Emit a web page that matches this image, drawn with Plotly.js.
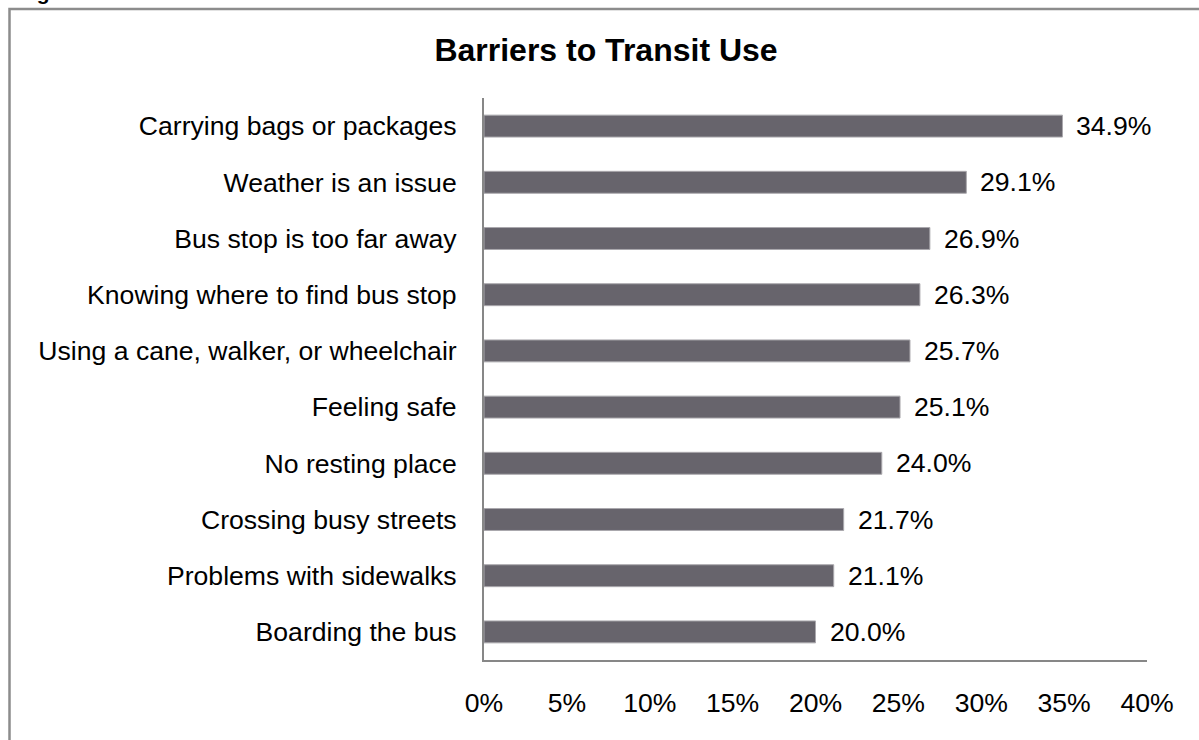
<!DOCTYPE html>
<html>
<head>
<meta charset="utf-8">
<script src="https://cdn.plot.ly/plotly-3.0.1.min.js"></script>
<style>
  html, body { margin: 0; padding: 0; background: #ffffff; }
  #chart { width: 1199px; height: 740px; }
</style>
</head>
<body>
<div id="chart"></div>
<script>
// Data (top to bottom as shown)
const categories = [
  "Carrying bags or packages",
  "Weather is an issue",
  "Bus stop is too far away",
  "Knowing where to find bus stop",
  "Using a cane, walker, or wheelchair",
  "Feeling safe",
  "No resting place",
  "Crossing busy streets",
  "Problems with sidewalks",
  "Boarding the bus"
];
const values = [34.9, 29.1, 26.9, 26.3, 25.7, 25.1, 24.0, 21.7, 21.1, 20.0];
const tickValues = [0, 5, 10, 15, 20, 25, 30, 35, 40];
const tickLabels = ["0%", "5%", "10%", "15%", "20%", "25%", "30%", "35%", "40%"];
const chartTitle = "Barriers to Transit Use";

const FONT = "'Liberation Sans', Arial, Helvetica, sans-serif";
const FS = 26.6;

const trace = {
  type: "bar",
  orientation: "h",
  x: values,
  y: categories,
  marker: { color: "#67646c", line: { color: "#aaa8ad", width: 1 } },
  hoverinfo: "x+y"
};

const valueAnnotations = values.map((v, i) => ({
  x: v,
  y: categories[i],
  xref: "x",
  yref: "y",
  text: v.toFixed(1) + "%",
  showarrow: false,
  xanchor: "left",
  yanchor: "middle",
  xshift: 12,
  font: { family: FONT, size: FS, color: "#000000" }
}));

const layout = {
  width: 1199,
  height: 740,
  margin: { l: 484, r: 52, t: 98, b: 80, pad: 0 },
  paper_bgcolor: "#ffffff",
  plot_bgcolor: "#ffffff",
  showlegend: false,
  bargap: 0.61,
  font: { family: FONT, size: FS, color: "#000000" },
  title: {
    text: "<b>" + chartTitle + "</b>",
    font: { family: FONT, size: 32, color: "#000000" },
    xref: "container",
    yref: "container",
    x: 606 / 1199,
    xanchor: "center",
    y: 1 - 50 / 740,
    yanchor: "middle"
  },
  xaxis: {
    range: [0, 40],
    tickvals: tickValues,
    ticktext: tickLabels,
    showgrid: false,
    zeroline: false,
    showline: true,
    linecolor: "#878787",
    linewidth: 2,
    ticks: "",
    ticklabelstandoff: 18,
    tickfont: { family: FONT, size: FS, color: "#000000" },
    fixedrange: true
  },
  yaxis: {
    type: "category",
    autorange: "reversed",
    showgrid: false,
    zeroline: false,
    showline: true,
    linecolor: "#878787",
    linewidth: 2,
    ticks: "",
    ticklabelstandoff: 20,
    tickfont: { family: FONT, size: FS, color: "#000000" },
    fixedrange: true
  },
  shapes: [
    {
      type: "rect",
      xref: "paper",
      yref: "paper",
      x0: (9.5 - 484) / 663,
      x1: 1.3,
      y0: (660 - 9) / 562,
      y1: -0.4,
      line: { color: "#8c8c8c", width: 2.5 },
      fillcolor: "rgba(0,0,0,0)",
      layer: "below"
    }
  ],
  annotations: valueAnnotations.concat([
    {
      xref: "paper",
      yref: "paper",
      x: (16 - 484) / 663,
      y: (660 - 6) / 562,
      xanchor: "left",
      yanchor: "bottom",
      text: "<b>Figure</b>",
      showarrow: false,
      font: { family: FONT, size: 21, color: "#000000" }
    }
  ])
};

Plotly.newPlot("chart", [trace], layout, { displayModeBar: false, staticPlot: true });
</script>
</body>
</html>
